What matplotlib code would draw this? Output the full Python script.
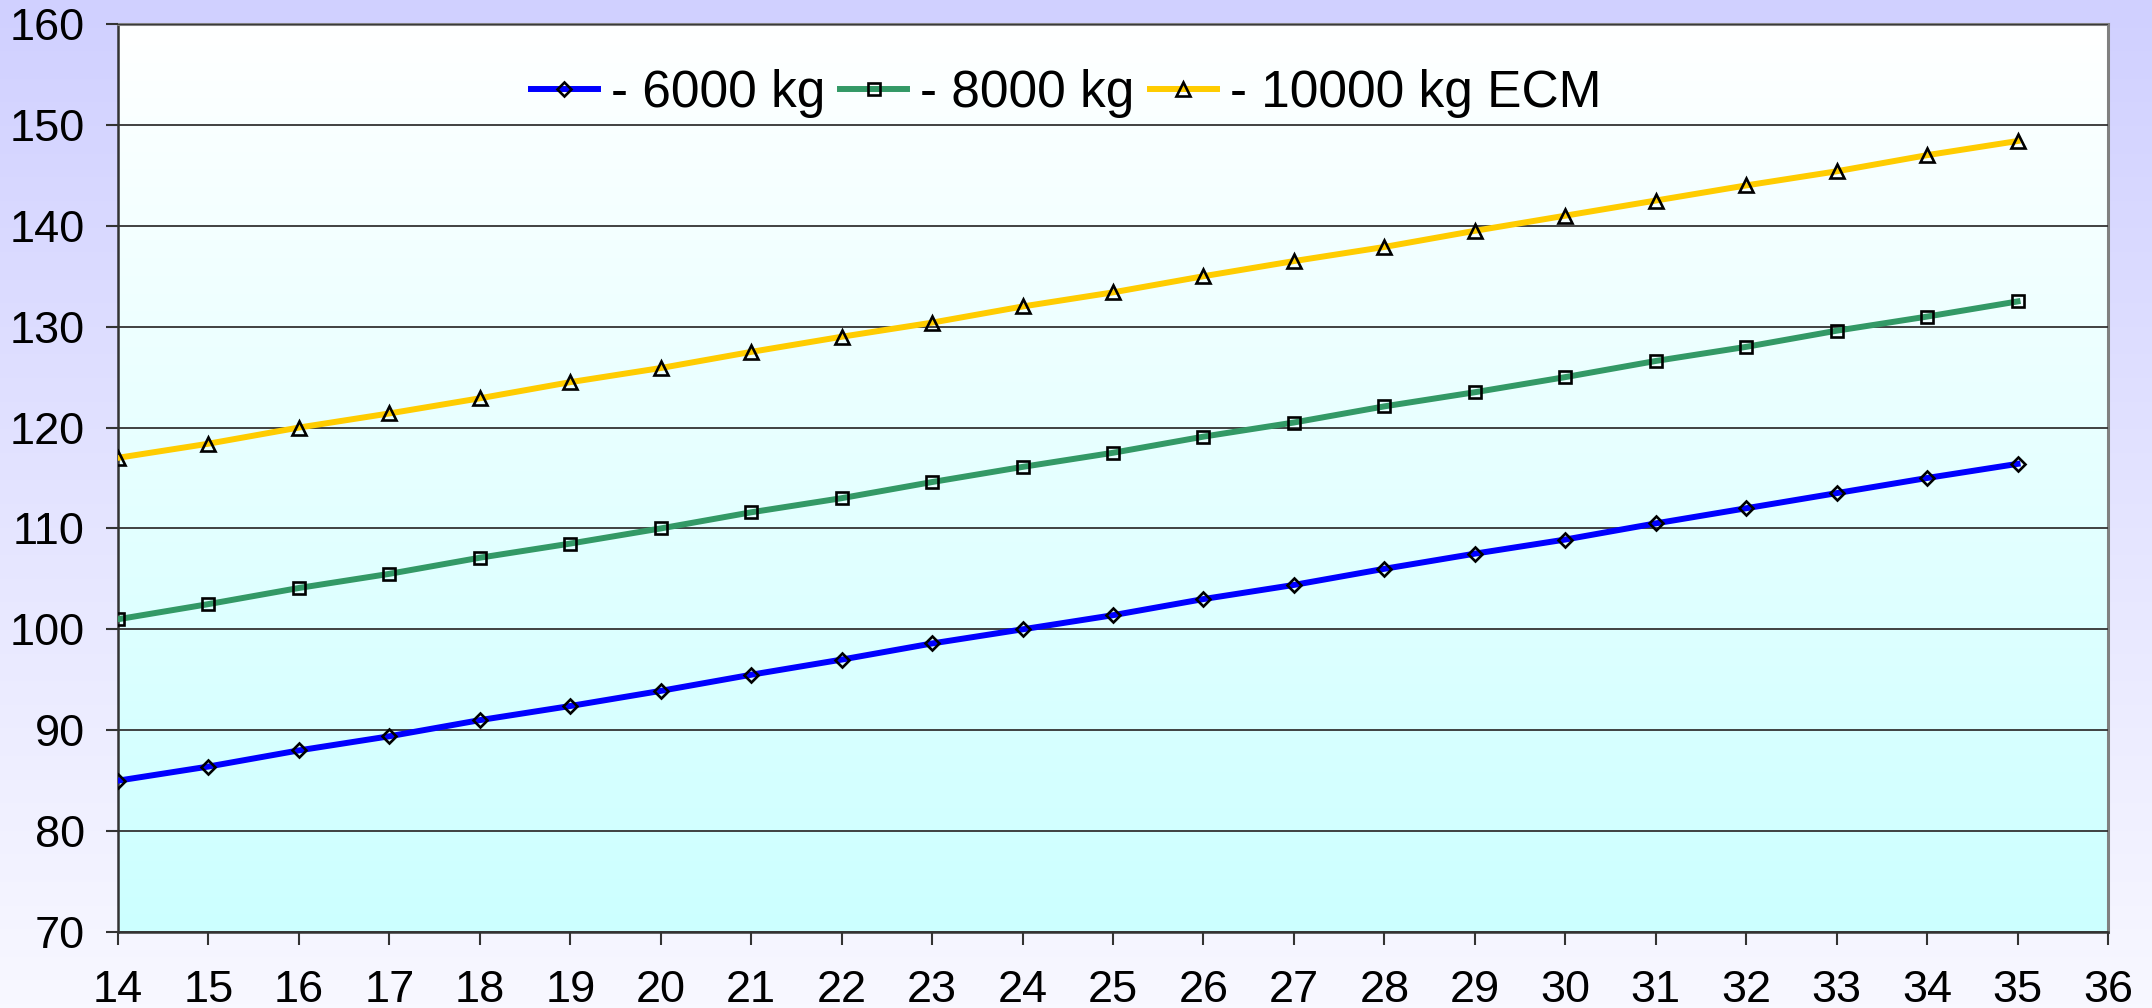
import matplotlib
matplotlib.use("Agg")
import matplotlib.pyplot as plt
import numpy as np
from matplotlib.colors import LinearSegmentedColormap

# -------------------------------------------------------
# DATA
# -------------------------------------------------------
x_values = list(range(14, 36))

milk_6000 = [85.0, 86.4, 88.0, 89.4, 91.0, 92.4, 93.9, 95.5, 97.0, 98.6, 100.0,
             101.4, 103.0, 104.4, 106.0, 107.5, 108.9, 110.5, 112.0, 113.5, 115.0, 116.4]
milk_8000 = [101.0, 102.5, 104.1, 105.5, 107.1, 108.5, 110.0, 111.6, 113.0, 114.6, 116.1,
             117.5, 119.1, 120.5, 122.1, 123.5, 125.0, 126.6, 128.0, 129.6, 131.0, 132.5]
milk_10000 = [117.0, 118.4, 120.0, 121.4, 122.9, 124.5, 125.9, 127.5, 129.0, 130.4, 132.0,
              133.4, 135.0, 136.5, 137.9, 139.5, 141.0, 142.5, 144.0, 145.4, 147.0, 148.4]

series_labels = ["- 6000 kg", "- 8000 kg", "- 10000 kg ECM"]

plt.rcParams["font.family"] = ["Liberation Sans", "DejaVu Sans"]

W, H = 2152, 1008
fig = plt.figure(figsize=(W / 100, H / 100), dpi=100)

# figure background: lavender at top fading to near white at bottom
bg = fig.add_axes([0, 0, 1, 1], zorder=-10)
bg_cmap = LinearSegmentedColormap.from_list("bg", ["#F8F8FF", "#D0D0FF"])
bg.imshow(np.linspace(0, 1, 256).reshape(-1, 1), aspect="auto", cmap=bg_cmap,
          origin="lower", extent=[0, 1, 0, 1])
bg.axis("off")

# plot area placed at the pixel box of the reference
left, right, top, bottom = 118, 2108, 24, 932
ax = fig.add_axes([left / W, 1 - bottom / H, (right - left) / W, (bottom - top) / H])
ax.patch.set_alpha(0)

# plot area gradient: white at top, light cyan at bottom
area_cmap = LinearSegmentedColormap.from_list("area", ["#CCFFFF", "#FFFFFF"])
ax.imshow(np.linspace(0, 1, 256).reshape(-1, 1), aspect="auto", cmap=area_cmap,
          origin="lower", extent=[14, 36, 70, 160], zorder=0)

ax.plot(x_values, milk_6000, color="#0000FF", lw=4.3, marker="D", ms=7.3,
        mfc="none", mec="black", mew=1.9, label=series_labels[0], zorder=3)
ax.plot(x_values, milk_8000, color="#339966", lw=4.3, marker="s", ms=8.3,
        mfc="none", mec="black", mew=1.9, label=series_labels[1], zorder=3)
ax.plot(x_values, milk_10000, color="#FFCC00", lw=4.3, marker="^", ms=10.5,
        mfc="none", mec="black", mew=1.9, label=series_labels[2], zorder=3)

ax.set_xlim(14, 36)
ax.set_ylim(70, 160)
ax.set_xticks(range(14, 37))
ax.set_yticks(range(70, 161, 10))
ax.grid(axis="y", color="#333333", lw=1.3, zorder=1)
ax.set_axisbelow(False)

ax.tick_params(axis="both", labelsize=32.5, direction="out", width=1.5,
               color="#333333", length=9)
ax.tick_params(axis="x", pad=18)
ax.tick_params(axis="y", pad=15)

for side in ["left", "bottom"]:
    ax.spines[side].set_color("#333333")
    ax.spines[side].set_linewidth(1.8)
for side in ["top", "right"]:
    ax.spines[side].set_color("#808080")
    ax.spines[side].set_linewidth(2.2)

leg = ax.legend(loc="center left", bbox_to_anchor=(531 / W, 1 - 93 / H),
                bbox_transform=fig.transFigure, ncol=3, frameon=False,
                fontsize=37, borderpad=0, borderaxespad=0, handlelength=1.3,
                handletextpad=0.25, columnspacing=0.3)

plt.savefig("out.png", dpi=100)
